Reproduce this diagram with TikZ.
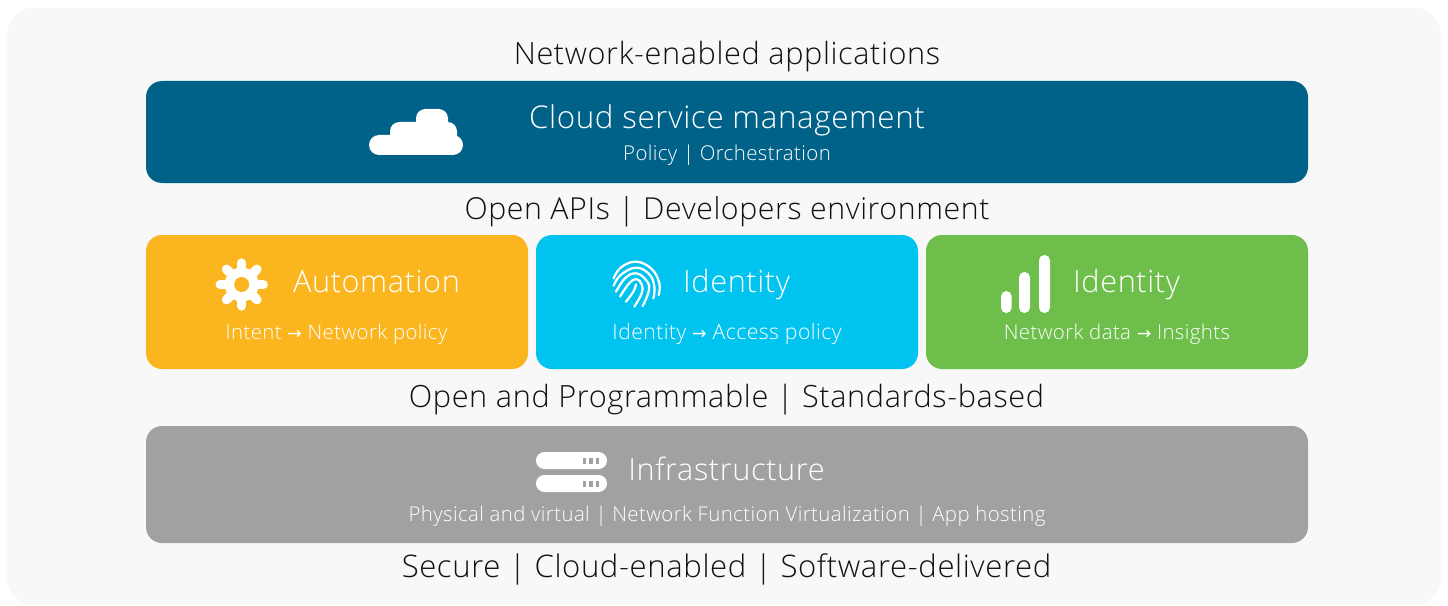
\documentclass[tikz,border=0pt]{standalone}
\usepackage{fontspec}
\setmainfont[LetterSpace=2]{Open Sans Light}
\newfontfamily\arrowfont{DejaVu Sans}
\definecolor{pagebg}{HTML}{F8F8F8}
\definecolor{cloudblue}{HTML}{006288}
\definecolor{autoyellow}{HTML}{FBB51F}
\definecolor{idcyan}{HTML}{00C4EF}
\definecolor{datagreen}{HTML}{6DBE4A}
\definecolor{infragray}{HTML}{A0A1A3}
\definecolor{txt}{HTML}{111111}
\tikzset{
  x=0.75pt,y=-0.75pt,
  panel/.style={rounded corners=12pt,draw=none},
  dark/.style={anchor=base,inner sep=0pt,text=txt,font=\fontsize{23}{27}\selectfont},
  lite/.style={anchor=base,inner sep=0pt,text=white,font=\fontsize{23}{27}\selectfont},
  small/.style={anchor=base,inner sep=0pt,text=white,font=\fontsize{15.3}{18}\selectfont},
  ico/.style={fill=white,draw=none},
  finger/.style={draw=white,line width=1.7pt,line cap=round,fill=none},
}
\newcommand{\arr}{{\arrowfont\fontsize{13}{14}\selectfont→}}
\begin{document}
\begin{tikzpicture}
\useasboundingbox (0,0) rectangle (1448,606);
\fill[white] (0,0) rectangle (1448,606);
\fill[pagebg,rounded corners=20pt] (7,8) rectangle (1441,605);
% panels
\fill[cloudblue,panel] (146,81) rectangle (1308,183);
\fill[autoyellow,panel] (146,235) rectangle (528,369);
\fill[idcyan,panel] (536,235) rectangle (918,369);
\fill[datagreen,panel] (926,235) rectangle (1308,369);
\fill[infragray,panel] (146,426) rectangle (1308,543);
% dark labels
\node[dark] (t1) at (727,65) {Network-enabled applications};
\node[dark,font=\fontsize{22.7}{27}\selectfont] (t2) at (727,219) {Open APIs | Developers environment};
\node[dark] (t3) at (726.5,407) {Open and Programmable | Standards-based};
\node[dark,font=\fontsize{23.3}{27}\selectfont] (t4) at (726.5,577) {Secure | Cloud-enabled | Software-delivered};
% cloud panel
\node[lite,font=\fontsize{23.5}{27}\selectfont] (c1) at (727,129) {Cloud service management};
\node[small] (c2) at (727,161) {Policy | Orchestration};
\fill[ico,rounded corners=7.5pt] (369,135) rectangle (463,155);
\fill[ico,rounded corners=7pt] (390,122) rectangle (457,150);
\fill[ico,rounded corners=7pt] (416,109) rectangle (448,135);
% automation
\node[lite] (a1) at (376.5,292) {Automation};
\node[small] (a2) at (336.5,339) {Intent \arr{} Network policy};
\foreach \a in {0,45,...,315}
  \draw[white,line width=7pt,line cap=round] (241.7,284.5) -- ++(\a:21.5);
\fill[white] (241.7,284.5) circle[radius=17];
\fill[autoyellow] (241.7,284.5) circle[radius=7.5];
% identity (fingerprint)
\node[lite] (i1) at (736.5,292) {Identity};
\node[small,font=\fontsize{15.9}{18}\selectfont] (i2) at (727,339) {Identity \arr{} Access policy};
\begin{scope}[shift={(600,245)},x=0.25pt,y=-0.25pt]
\draw[finger] plot[smooth,tension=0.7] coordinates {(41,100) (62,68) (108,50) (155,72) (178,115) (176,150)};
\draw[finger] plot[smooth,tension=0.7] coordinates {(41,122) (62,90) (108,68) (148,88) (163,125) (160,160)};
\draw[finger] plot[smooth,tension=0.7] coordinates {(48,140) (75,100) (108,85) (138,105) (147,135) (128,183)};
\draw[finger] plot[smooth,tension=0.7] coordinates {(60,155) (85,118) (108,102) (125,118) (125,145) (103,185)};
\draw[finger] plot[smooth,tension=0.7] coordinates {(78,170) (100,140) (108,118)};
\end{scope}
% data
\node[lite] (d1) at (1126.5,292) {Identity};
\node[small] (d2) at (1117,339) {Network data \arr{} Insights};
\fill[ico,rounded corners=4pt] (1001,291) rectangle (1011.7,313);
\fill[ico,rounded corners=4pt] (1019,272) rectangle (1030,313);
\fill[ico,rounded corners=4pt] (1039,255) rectangle (1050,313);
% infrastructure
\node[lite] (n1) at (726.5,480) {Infrastructure};
\node[small] (n2) at (727,521) {Physical and virtual | Network Function Virtualization | App hosting};
\fill[ico,rounded corners=6.3pt] (536,452) rectangle (607,469);
\fill[ico,rounded corners=6.3pt] (536,475) rectangle (607,492);
\foreach \x in {582.5,589,595.7}{
  \fill[infragray] (\x,457.5) rectangle +(3.6,6);
  \fill[infragray] (\x,480.7) rectangle +(3.6,6);
}
\end{tikzpicture}
\end{document}
